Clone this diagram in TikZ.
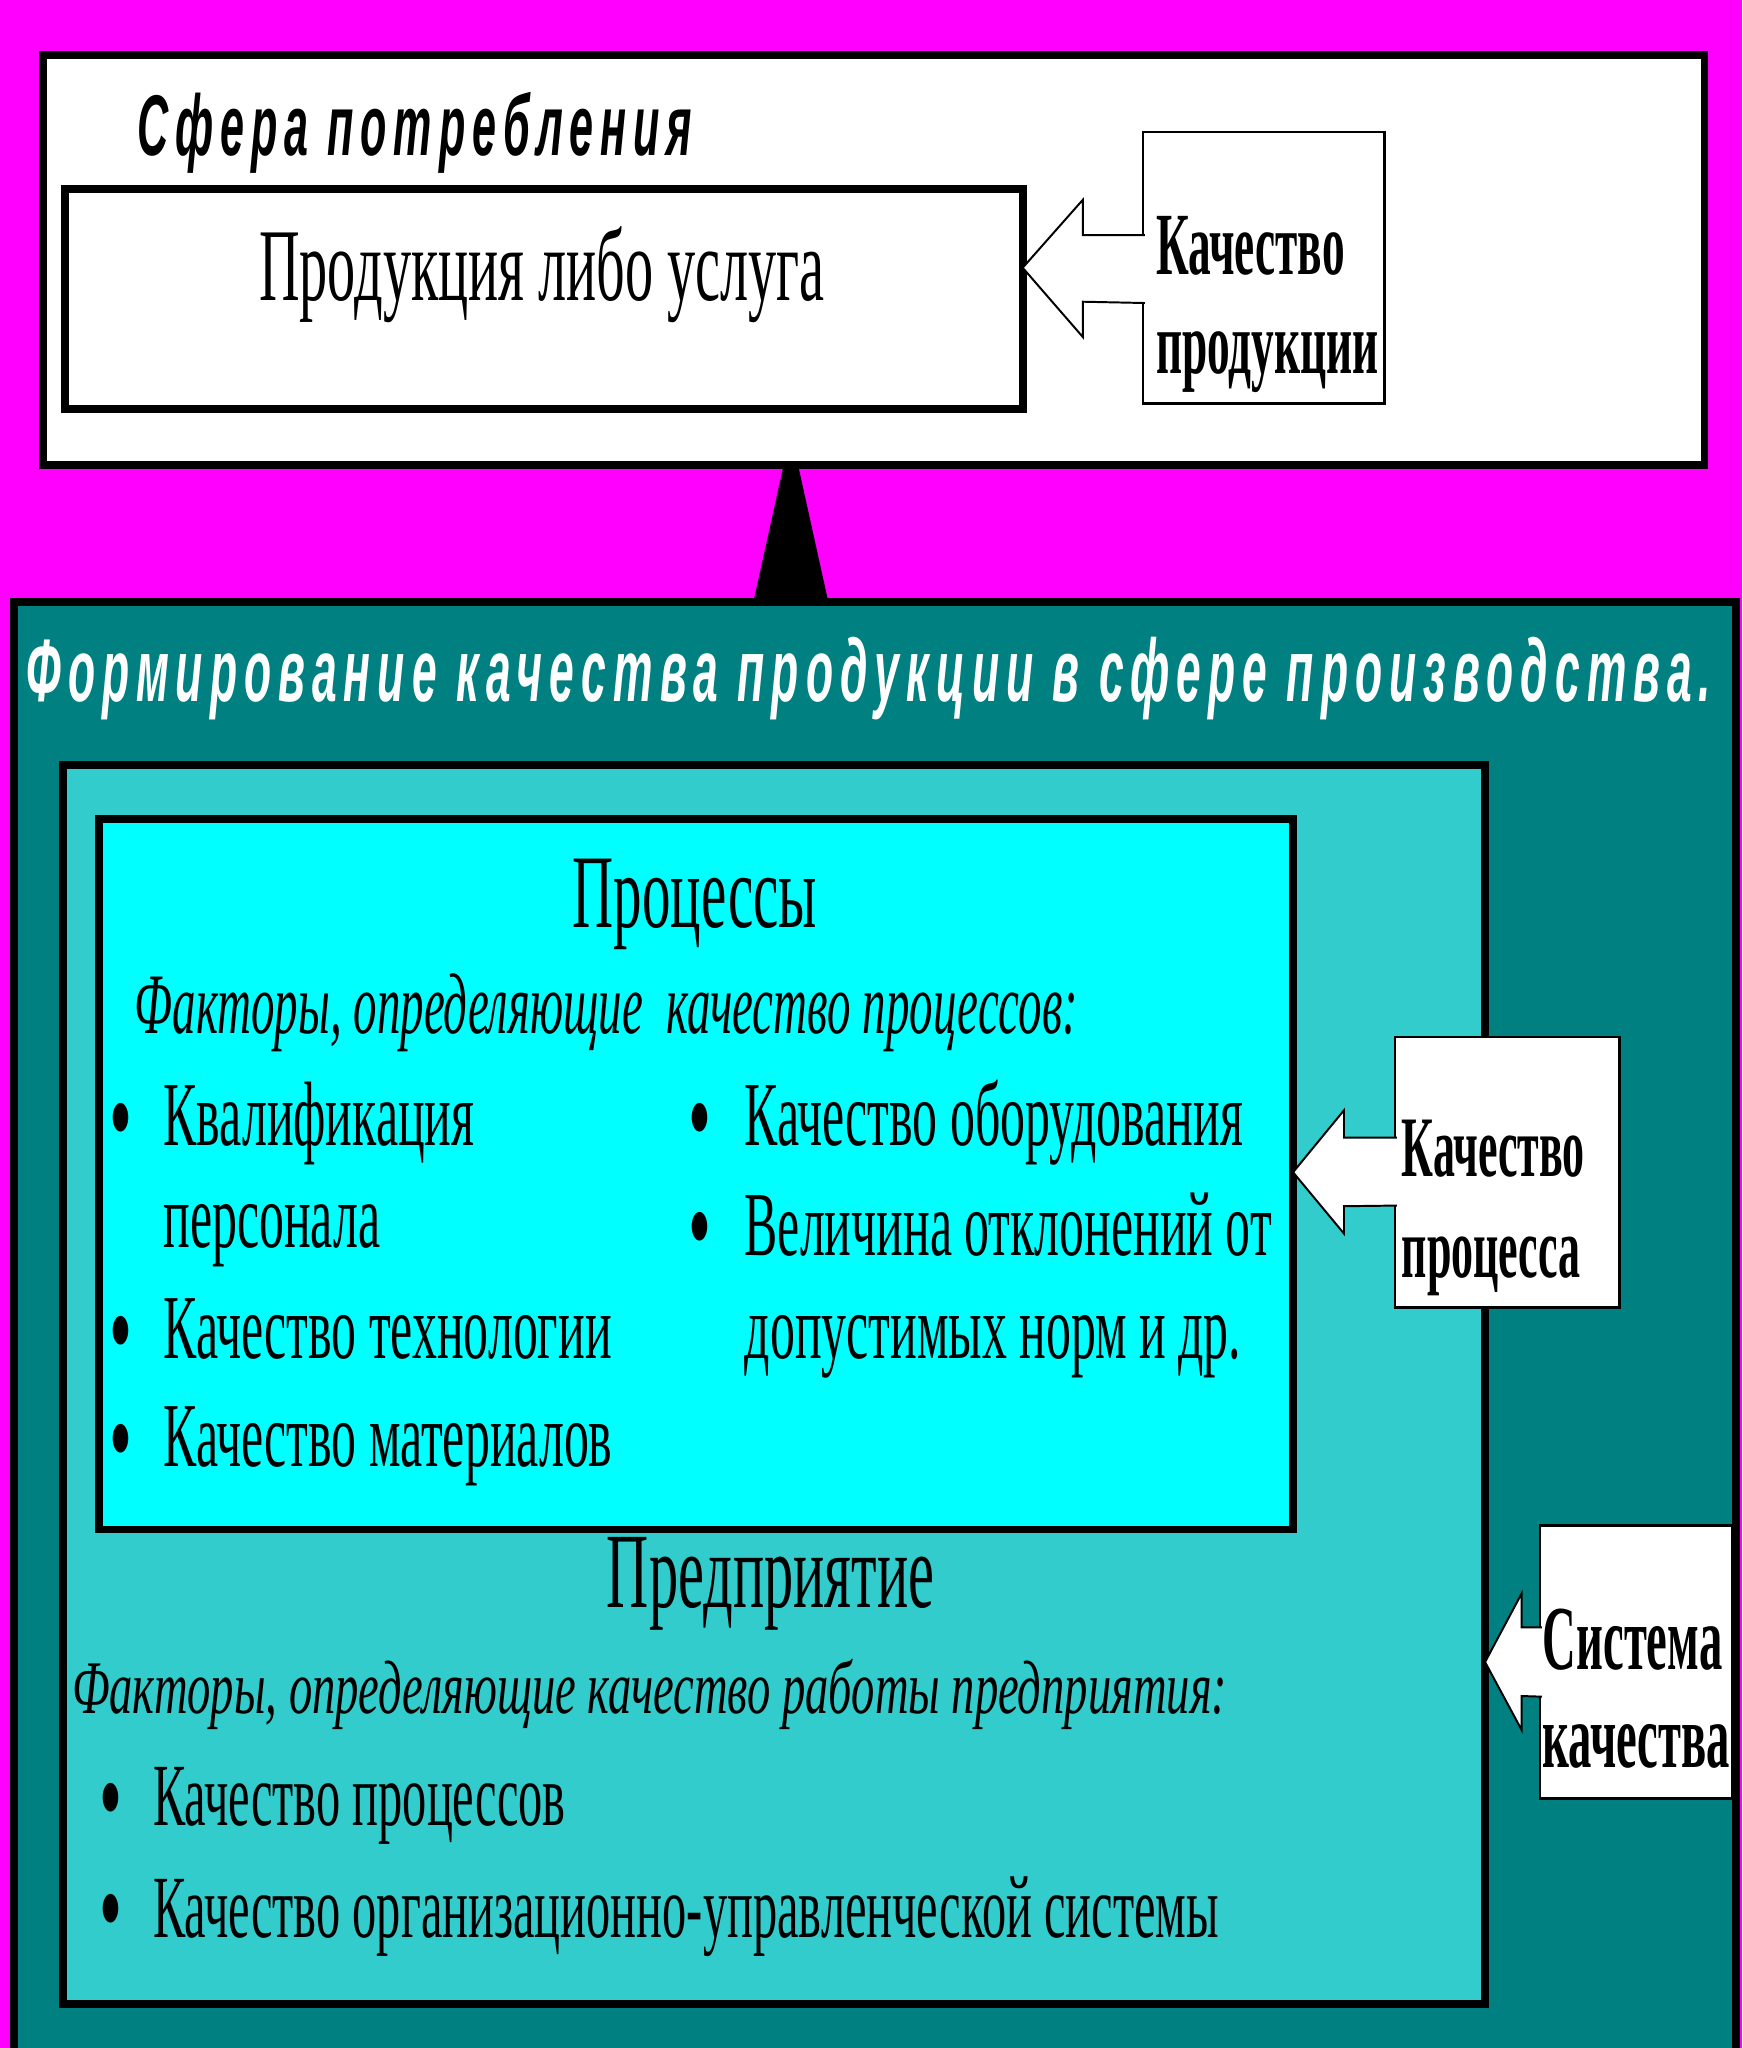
\documentclass[tikz,border=0pt]{standalone}
\usepackage{fontspec}
\setmainfont{Liberation Serif}
\newfontfamily\narrow[FakeStretch=0.545]{Liberation Serif}
\newfontfamily\narrowbf[FakeStretch=0.51]{Liberation Serif}
\newfontfamily\wideit[FakeStretch=0.615]{Liberation Serif}
\newfontfamily\headfont[FakeStretch=0.5,LetterSpace=8]{Liberation Sans}
\usetikzlibrary{positioning,calc}
\definecolor{bgmag}{HTML}{FF00FF}
\definecolor{deepteal}{HTML}{008080}
\definecolor{midteal}{HTML}{33CCCC}
\definecolor{lightcyan}{HTML}{00FFFF}
\newcommand{\fsz}[1]{\fontsize{#1}{#1}\selectfont}

\begin{document}
\begin{tikzpicture}[x=1pt,y=-1pt,line join=miter,
  frame/.style={draw=black,line width=6pt,inner sep=0pt,outer sep=0pt,anchor=north west},
  tag/.style={draw=black,line width=2pt,fill=white,inner sep=0pt,outer sep=0pt,anchor=north west},
  txt/.style={inner sep=0pt,anchor=base west},
  ctxt/.style={inner sep=0pt,anchor=base},
  dot/.style={inner sep=0pt,anchor=base west,font=\narrow\fsz{92}},
  blk/.style={draw=black,line width=1.5pt,fill=white}]
\useasboundingbox (0,0) rectangle (1334,1568);
\fill[bgmag] (0,0) rectangle (1334,1568);

\node[frame,fill=white,minimum width=1272pt,minimum height=314pt] (cons) at (33,42) {};
\node[frame,fill=white,minimum width=733pt,minimum height=168pt] (prod) at (50,145) {};
\node[tag,minimum width=185pt,minimum height=208pt] (qprod) at (875,101) {};
\fill[black] ($(cons.south)+(-69,0)$) -- ++(11,0) -- ++(23,104) -- ++(-57,0) -- cycle;

\node[frame,fill=deepteal,minimum width=1318pt,minimum height=1150pt] (form) at (11,461) {};
\node[frame,fill=midteal,minimum width=1089pt,minimum height=948pt] (ent) at (48,586) {};
\node[frame,fill=lightcyan,minimum width=914pt,minimum height=544pt] (proc) at (76,627) {};
\node[tag,minimum width=172pt,minimum height=207pt] (qproc) at (1068,794) {};
\node[tag,minimum width=147pt,minimum height=209pt] (qsys) at (1179,1168) {};

\coordinate (tipA) at (prod.east |- qprod.west);
\draw[blk] ([xshift=1.5pt]qprod.west |- 0,180) -- ++(-47.5,0) -- ++(0,-27) -- (tipA)
  -- ++(46,53) -- ++(0,-27) -- ([xshift=1.5pt]qprod.west |- 0,232);
\coordinate (tipB) at (proc.east |- qproc.west);
\draw[blk] ([xshift=1.5pt]qproc.west |- 0,871) -- ++(-40.5,0) -- ++(0,-21) -- (tipB)
  -- ++(39,47) -- ++(0,-21) -- ([xshift=1.5pt]qproc.west |- 0,923);
\coordinate (tipC) at (ent.east |- qsys.west);
\draw[blk] ([xshift=1.5pt]qsys.west |- 0,1246) -- ++(-15.5,0) -- ++(0,-26) -- (tipC)
  -- ++(28,52) -- ++(0,-26) -- ([xshift=1.5pt]qsys.west |- 0,1299);

\node[txt,font=\headfont\bfseries\itshape\fsz{66}] (conslbl) at (105,119) {Сфера потребления};
\node[ctxt,font=\narrow\fsz{79}] (prodlbl) at (415,230) {Продукция либо услуга};
\node[txt,font=\narrowbf\bfseries\fsz{68}] (qprod1) at (885,210) {Качество};
\node[txt,font=\narrowbf\bfseries\fsz{68}] (qprod2) at (885,286) {продукции};

\node[txt,font=\headfont\bfseries\itshape\fsz{68},text=white] (formlbl) at (20,537)
  {Формирование качества продукции в сфере производства.};

\node[ctxt,font=\narrow\fsz{80}] (proclbl) at (532,710) {Процессы};
\node[txt,font=\narrow\itshape\fsz{66}] (procfac) at (103,791) {Факторы, определяющие \ качество процессов:};
\begin{scope}[every node/.style={font=\narrow\fsz{70}}]
\node[dot] (b1) at (84,886) {•};
\node[txt] (p1) at (125,877) {Квалификация};
\node[txt] (p1b) at (125,955) {персонала};
\node[dot] (b2) at (84,1049) {•};
\node[txt] (p2) at (125,1040) {Качество технологии};
\node[dot] (b3) at (84,1132) {•};
\node[txt] (p3) at (125,1123) {Качество материалов};
\node[dot] (b4) at (527,886) {•};
\node[txt] (p4) at (570,877) {Качество оборудования};
\node[dot] (b5) at (527,970) {•};
\node[txt] (p5) at (570,961) {Величина отклонений от};
\node[txt] (p5b) at (570,1040) {допустимых норм и др.};
\end{scope}
\node[txt,font=\narrowbf\bfseries\fsz{66}] (qproc1) at (1073,901) {Качество};
\node[txt,font=\narrowbf\bfseries\fsz{66}] (qproc2) at (1073,978) {процесса};

\node[ctxt,font=\narrow\fsz{82}] (entlbl) at (590,1231) {Предприятие};
\node[txt,font=\wideit\itshape\fsz{58}] (entfac) at (55,1312) {Факторы, определяющие качество работы предприятия:};
\begin{scope}[every node/.style={font=\narrow\fsz{68}}]
\node[dot] (b6) at (76,1407) {•};
\node[txt] (e1) at (117,1398) {Качество процессов};
\node[dot] (b7) at (76,1492) {•};
\node[txt] (e2) at (117,1483) {Качество организационно-управленческой системы};
\end{scope}
\node[txt,font=\narrowbf\bfseries\fsz{70}] (qsys1) at (1181,1278) {Система};
\node[txt,font=\narrowbf\bfseries\fsz{70}] (qsys2) at (1181,1353) {качества};
\end{tikzpicture}
\end{document}
